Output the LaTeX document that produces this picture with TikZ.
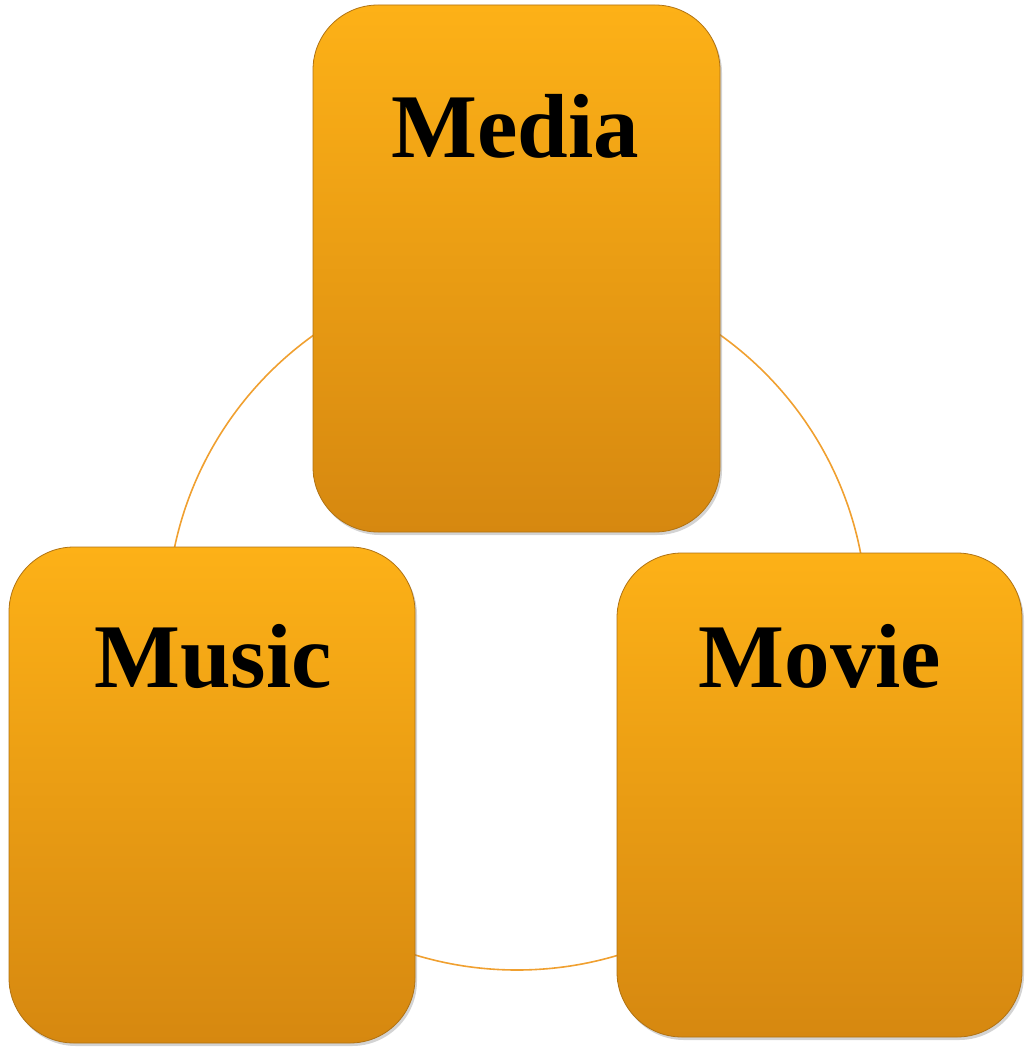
\documentclass[tikz,border=0pt]{standalone}
\usepackage{fontspec}
\setmainfont{Liberation Serif}
\usetikzlibrary{shadows}
\definecolor{boxtop}{HTML}{FDB117}
\definecolor{boxmid}{HTML}{F2A013}
\definecolor{boxbot}{HTML}{D68810}
\definecolor{boxedge}{HTML}{B07212}
\definecolor{ringcol}{HTML}{F0A030}
\tikzset{
  card/.style={draw=boxedge, line width=0.8pt, rounded corners=65pt, top color=boxtop, middle color=boxmid, bottom color=boxbot, minimum width=#1, drop shadow={opacity=0.35, shadow xshift=2pt, shadow yshift=-3pt}},
  cardtext/.style={anchor=base, font=\bfseries\fontsize{91}{100}\selectfont, text=black, inner sep=0pt},
}
\begin{document}
\begin{tikzpicture}[x=1pt,y=-1pt]
\useasboundingbox (0,0) rectangle (1032,1056);
\coordinate (c) at (517,620);
\draw[ringcol, line width=1.6pt] (c) circle[radius=350pt];
\node[card=407pt, minimum height=527pt] (media) at (516.5,268.5) {};
\node[card=406pt, minimum height=496pt] (music) at (212,795) {};
\node[card=405pt, minimum height=484pt] (movie) at (819.5,795) {};
\node[cardtext] (mediat) at (515,158) {Media};
\node[cardtext] (musict) at (213,687) {Music};
\node[cardtext] (moviet) at (820,687) {Movie};
\end{tikzpicture}
\end{document}
